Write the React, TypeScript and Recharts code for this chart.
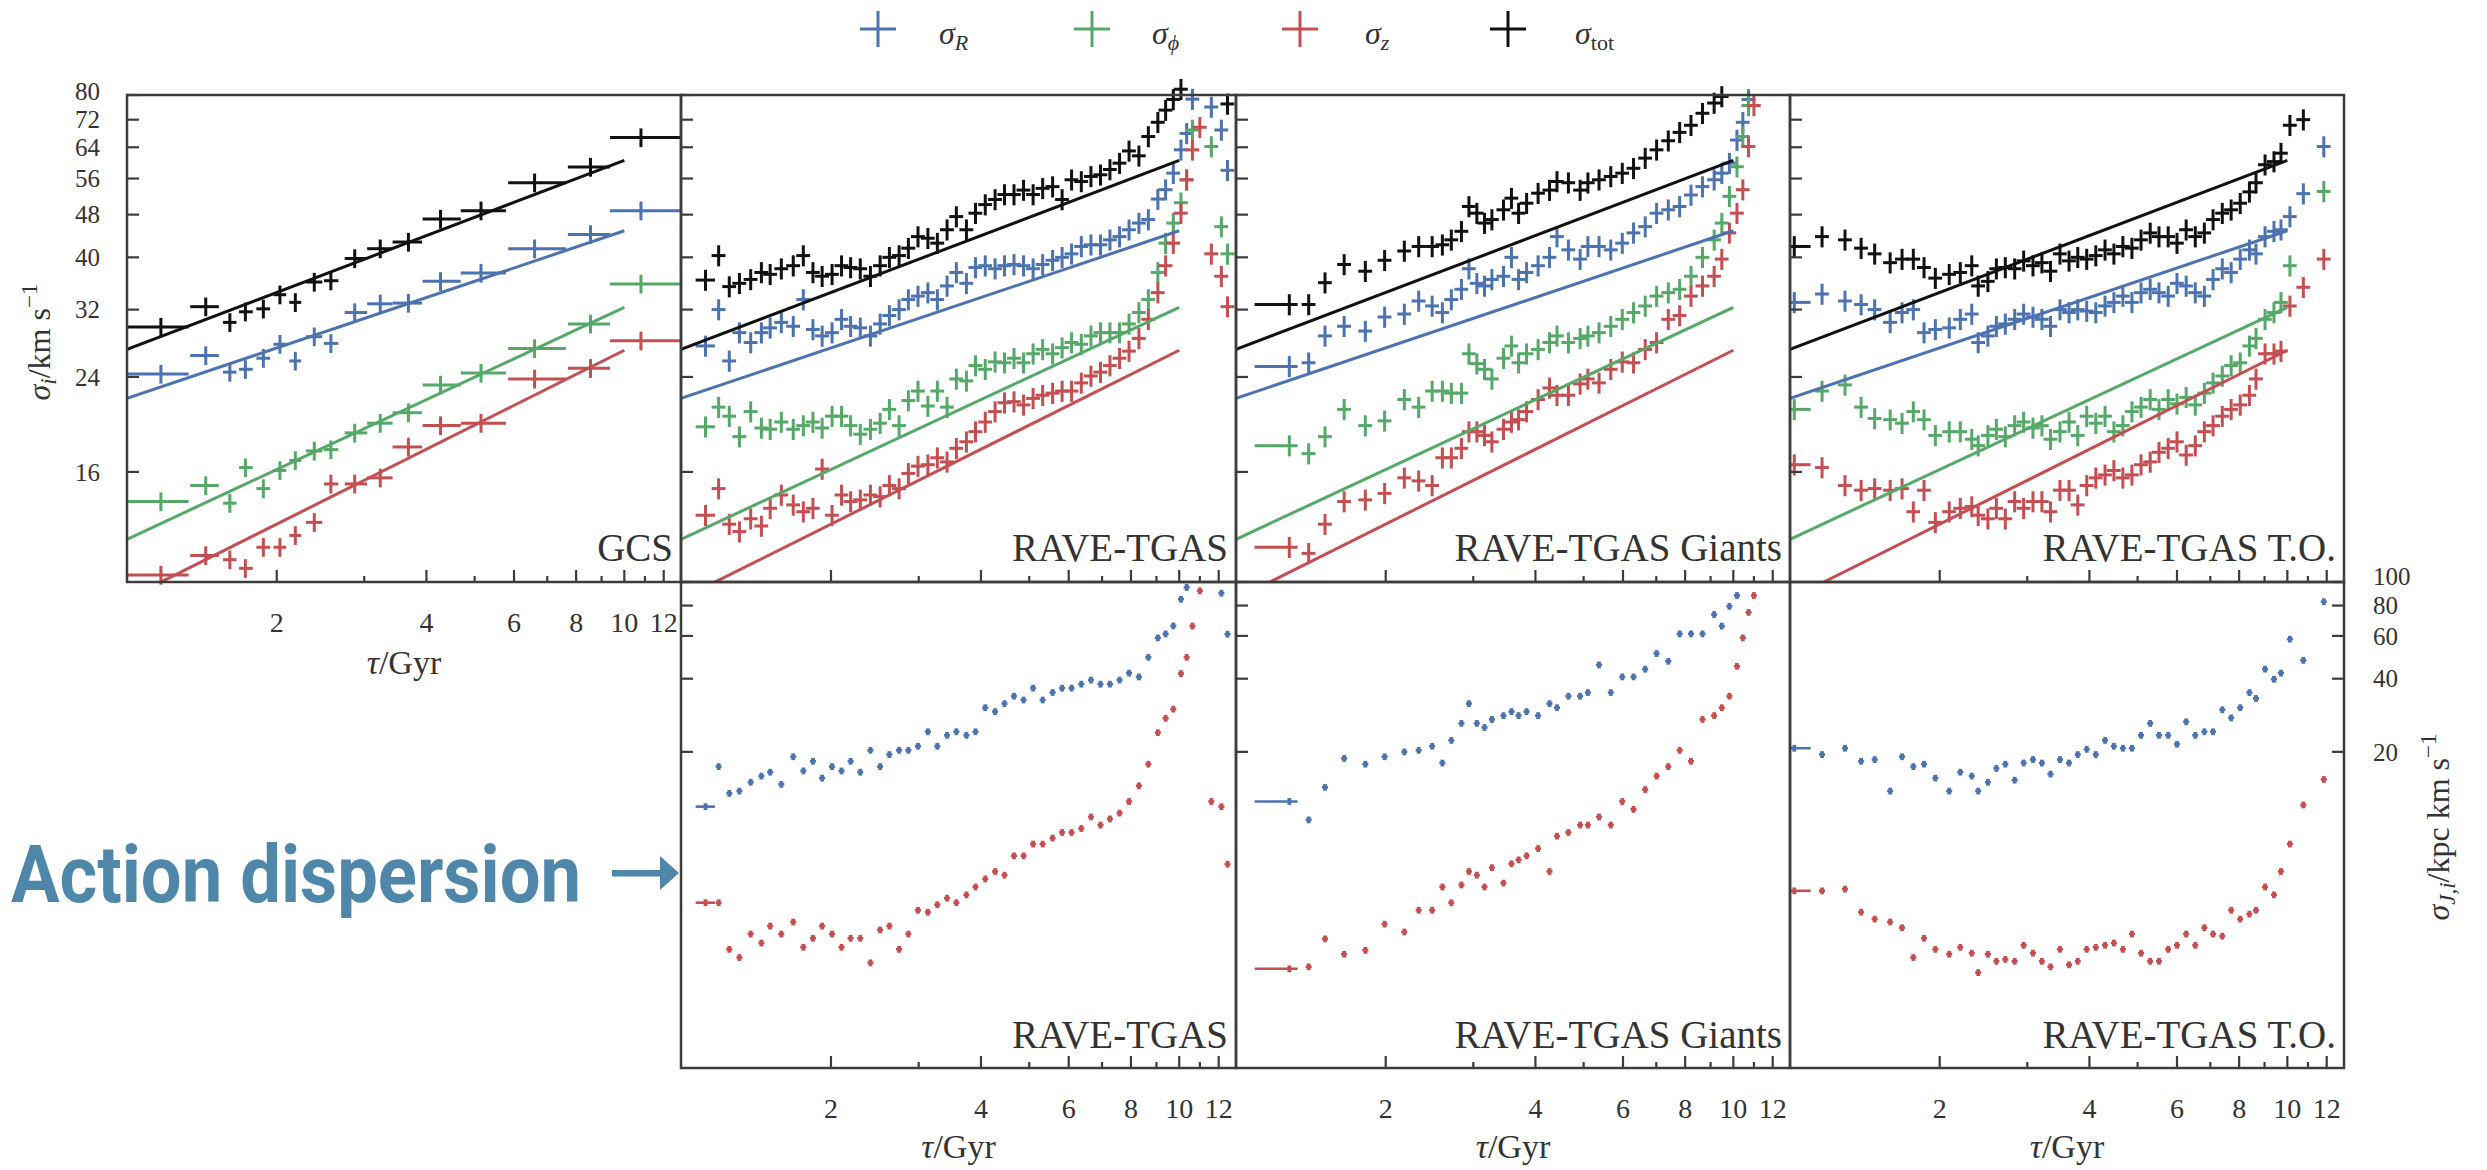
import React from 'react'
import { ComposedChart, Scatter, ErrorBar, XAxis, YAxis } from 'recharts'

// fit lines (power laws, straight in log-log), shared by all velocity panels
const fitTau = [1, 10]
const fitR = [21.9, 44.8]
const fitPhi = [12.0, 32.3]
const fitZ = [9.3, 26.9]
const fitTot = [27.0, 60.5]

// GCS
const gcsTau = [1.17, 1.44, 1.61, 1.73, 1.88, 2.03, 2.18, 2.38, 2.57, 2.87, 3.23, 3.68, 4.27, 5.15, 6.6, 8.55, 10.8]
const gcsLo = [1.0, 1.34, 1.56, 1.68, 1.82, 1.97, 2.12, 2.29, 2.49, 2.74, 3.04, 3.42, 3.93, 4.69, 5.84, 7.7, 9.36]
const gcsHi = [1.33, 1.53, 1.66, 1.79, 1.94, 2.09, 2.24, 2.47, 2.66, 3.04, 3.42, 3.92, 4.69, 5.78, 7.63, 9.36, 13.0]
const gcsTot = [29.7, 32.4, 30.3, 31.7, 32.1, 34.1, 33.0, 36.0, 36.2, 39.8, 41.5, 42.7, 47.1, 48.8, 55.0, 58.8, 66.7]
const gcsR = [24.3, 26.3, 24.5, 24.8, 26.0, 27.6, 25.7, 28.5, 27.7, 31.6, 32.8, 32.9, 36.1, 37.4, 41.5, 44.1, 48.8]
const gcsPhi = [14.1, 15.1, 14.0, 16.3, 14.9, 16.1, 16.8, 17.5, 17.6, 18.9, 19.7, 20.6, 23.2, 24.4, 27.1, 30.1, 35.7]
const gcsZ = [10.3, 11.2, 11.0, 10.6, 11.6, 11.6, 12.2, 12.9, 15.2, 15.2, 15.6, 17.8, 19.5, 19.7, 23.8, 24.9, 28.0]

// RAVE-TGAS
const rtTau = [1.12, 1.19, 1.25, 1.31, 1.38, 1.45, 1.51, 1.59, 1.68, 1.76, 1.84, 1.92, 2.01, 2.1, 2.19, 2.29, 2.4, 2.51, 2.62, 2.74,
  2.86, 2.99, 3.13, 3.27, 3.42, 3.57, 3.74, 3.9, 4.08, 4.27, 4.46, 4.66, 4.87, 5.09, 5.32, 5.57, 5.82, 6.08, 6.36, 6.65,
  6.95, 7.26, 7.59, 7.93, 8.3, 8.67, 9.06, 9.39, 9.73, 10.08, 10.35, 10.63, 11.0, 11.6, 12.15, 12.5]
const rtTot = [36.3, 40.3, 35.3, 35.8, 36.4, 37.5, 37.2, 38.1, 38.6, 40.3, 37.5, 36.9, 37.2, 38.6, 38.3, 38.1, 36.9, 38.6, 40.0, 40.3,
  41.6, 43.7, 43.4, 42.5, 45.0, 47.6, 45.0, 48.3, 50.1, 51.2, 52.3, 52.3, 53.3, 52.3, 53.7, 54.1, 51.2, 55.7, 55.3, 56.5,
  56.9, 58.2, 59.8, 63.0, 61.7, 67.0, 71.2, 75.0, 78.5, 82, null, null, null, null, null, 77]
const rtR = [27.4, 32.0, 25.7, 29.0, 27.8, 29.0, 29.6, 30.3, 29.8, 33.4, 29.4, 28.6, 29.0, 30.7, 29.8, 29.6, 28.6, 30.1, 31.2, 32.0,
  33.4, 33.9, 34.4, 33.4, 35.4, 37.5, 35.8, 38.3, 38.6, 38.1, 38.6, 38.8, 38.6, 38.1, 38.8, 39.5, 40.0, 40.6, 41.9, 42.2,
  42.2, 43.1, 43.7, 45.0, 46.3, 47.0, 51.3, 53.4, 57.3, 63.3, 67.9, 78.6, null, 76, 68.9, 58]
const rtPhi = [19.4, 21.1, 20.3, 18.6, 20.7, 19.3, 19.2, 19.8, 19.2, 19.5, 19.8, 19.3, 20.3, 20.3, 19.5, 18.8, 19.2, 19.7, 20.9, 19.5,
  21.7, 22.6, 21.2, 22.6, 21.1, 23.8, 23.6, 25.2, 24.8, 25.6, 25.5, 26.0, 25.5, 26.5, 27.0, 26.5, 27.2, 27.8, 27.6, 28.6,
  29.0, 29.0, 29.0, 30.1, 31.6, 33.4, 37.5, 42.5, 46.3, 50.5, 55.7, 68.9, null, 64.2, 45.6, 40.6]
const rtZ = [13.3, 14.9, 12.8, 12.4, 13.1, 12.7, 13.7, 14.5, 13.9, 13.5, 13.7, 16.2, 13.3, 14.5, 14.1, 14.2, 14.5, 14.4, 15.1, 14.9,
  15.9, 16.4, 16.5, 17.0, 16.7, 17.7, 18.2, 19.0, 19.8, 20.7, 21.5, 21.6, 21.3, 21.9, 22.2, 22.4, 22.6, 22.6, 23.4, 24.1,
  24.5, 25.2, 26.0, 26.8, 28.3, 30.7, 34.4, 38.6, 42.5, 48.3, 55.7, 63.3, 69.7, 40.6, 36.9, 32.4]
const rtJR = [11.9, 17.4, 13.5, 13.8, 15.0, 15.9, 16.5, 14.7, 19.1, 16.7, 18.3, 15.6, 17.4, 16.7, 18.3, 16.5, 20.3, 17.4, 19.5, 20.3,
  20.3, 21.1, 24.2, 21.1, 23.4, 24.2, 23.4, 24.2, 30.4, 29.3, 31.6, 33.9, 32.7, 36.6, 32.7, 35.1, 36.6, 36.6, 38.0, 39.5,
  38.0, 38.0, 39.5, 42.2, 40.7, 49.0, 58.9, 61.2, 66.0, 85.0, 95.0, null, null, null, 90, 61]
const rtJz = [4.79, 4.79, 3.08, 2.85, 3.56, 3.27, 3.84, 3.56, 3.99, 3.14, 3.42, 3.84, 3.56, 3.14, 3.42, 3.42, 2.71, 3.7, 3.84, 3.08,
  3.56, 4.46, 4.38, 4.7, 5.0, 4.79, 5.16, 5.56, 6.0, 6.44, 6.22, 7.47, 7.47, 8.35, 8.35, 8.84, 9.32, 9.32, 9.68, 10.8,
  10.0, 10.6, 11.2, 12.5, 14.5, 17.8, 24.0, 27.5, 30.0, 42.0, 49.0, 65.9, 92, 12.5, 11.9, 6.9]
const rtFirstBin = [1.07, 1.17]

// RAVE-TGAS Giants
const giTau = [1.28, 1.4, 1.51, 1.65, 1.82, 1.99, 2.18, 2.33, 2.48, 2.6, 2.71, 2.84, 2.94, 3.05, 3.16, 3.27, 3.45, 3.58, 3.7, 3.84,
  4.05, 4.27, 4.42, 4.66, 4.92, 5.1, 5.37, 5.67, 5.98, 6.3, 6.65, 7.01, 7.4, 7.8, 8.22, 8.67, 9.15, 9.48, 9.82, 10.17,
  10.45, 10.73, 11.0]
const giTot = [32.7, 32.7, 35.9, 38.8, 37.7, 39.5, 41.1, 41.9, 41.9, 42.2, 43.1, 44.7, 49.7, 48.3, 46.3, 47.0, 49.0, 51.5, 48.3, 50.4,
  52.6, 53.3, 55.3, 55.0, 53.3, 55.0, 55.7, 56.5, 57.3, 58.5, 61.1, 63.3, 65.8, 68.2, 70.3, 74.0, 77.3, 79.5, null, null,
  null, null, null]
const giR = [25.1, 25.5, 28.6, 29.8, 29.2, 31.0, 31.4, 33.2, 32.5, 31.6, 33.4, 34.9, 38.1, 35.8, 35.4, 36.4, 36.9, 40.0, 36.4, 37.5,
  38.6, 40.0, 43.7, 41.3, 39.7, 41.9, 41.9, 41.3, 42.5, 44.4, 45.6, 48.3, 49.0, 49.7, 52.2, 54.1, 55.7, 57.3, 59.8, 66.0,
  71.2, 78.5, null]
const giPhi = [17.9, 17.3, 18.6, 20.9, 19.5, 19.9, 21.8, 21.1, 22.6, 22.6, 22.4, 22.4, 26.5, 25.4, 24.8, 23.8, 26.0, 27.4, 25.5, 26.5,
  27.0, 27.8, 28.6, 27.8, 28.3, 28.6, 29.0, 29.8, 30.7, 31.6, 32.5, 33.9, 34.4, 34.9, 36.9, 40.0, 43.1, 46.3, 51.9, 58.9,
  67.0, 76.5, null]
const giZ = [11.6, 11.3, 12.8, 14.1, 14.2, 14.6, 15.6, 15.4, 15.1, 17.0, 17.0, 17.7, 19.0, 19.0, 18.7, 18.2, 19.2, 19.8, 20.0, 20.7,
  21.8, 22.9, 22.2, 22.2, 23.3, 23.8, 23.4, 24.8, 25.6, 25.5, 27.0, 27.8, 30.7, 31.2, 33.9, 35.4, 36.9, 39.7, 44.4, 48.3,
  53.4, 64.2, 76.5]
const giJR = [12.5, 10.5, 14.3, 18.8, 17.8, 19.1, 20.0, 20.3, 21.1, 18.0, 22.3, 26.2, 31.6, 26.2, 25.2, 27.2, 28.2, 29.3, 28.2, 29.3,
  28.2, 31.6, 30.4, 33.9, 33.9, 35.1, 45.6, 35.1, 40.7, 40.7, 43.8, 50.8, 47.2, 61.2, 61.2, 61.2, 73.5, 65.9, 79.4, 88,
  null, null, null]
const giJz = [2.56, 2.61, 3.4, 2.94, 3.05, 3.91, 3.63, 4.46, 4.46, 5.56, 4.79, 5.67, 6.44, 6.22, 5.56, 6.68, 5.77, 6.93, 7.19, 7.47,
  8.0, 6.44, 9.0, 9.32, 10.0, 10.0, 10.8, 10.0, 12.5, 11.6, 14.0, 15.9, 17.4, 20.3, 18.3, 27.2, 28.2, 30.4, 33.9, 45,
  58.9, 75, 88]
const giFirstBin = [1.09, 1.33]

// RAVE-TGAS T.O.
const toTau = [1.02, 1.16, 1.29, 1.39, 1.48, 1.59, 1.68, 1.77, 1.86, 1.96, 2.09, 2.2, 2.32, 2.39, 2.5, 2.6, 2.71, 2.83, 2.95, 3.08,
  3.21, 3.34, 3.49, 3.64, 3.79, 3.95, 4.12, 4.3, 4.48, 4.67, 4.87, 5.08, 5.3, 5.52, 5.76, 6.0, 6.26, 6.53, 6.81, 7.09,
  7.4, 7.71, 8.04, 8.39, 8.65, 9.02, 9.4, 9.71, 10.12, 10.77, 11.84]
const toTot = [41.9, 43.7, 43.1, 41.6, 40.6, 39.1, 39.7, 39.7, 38.3, 36.6, 37.2, 37.5, 38.6, 35.4, 36.1, 38.1, 38.3, 38.1, 39.4, 38.6,
  39.1, 37.7, 40.6, 39.4, 40.0, 39.7, 40.3, 41.3, 40.6, 41.9, 41.6, 43.1, 44.4, 43.7, 43.7, 42.5, 45.0, 43.7, 44.4, 47.0,
  48.3, 49.0, 50.4, 52.9, 55.0, 59.4, 60.2, 62.4, 70.3, 72.0, null]
const toR = [33.0, 34.2, 33.2, 32.7, 32.0, 30.3, 31.6, 32.0, 29.0, 29.4, 29.6, 30.7, 31.4, 27.8, 28.6, 29.8, 30.1, 30.7, 31.4, 31.0,
  30.7, 29.8, 32.0, 31.6, 32.0, 31.8, 31.6, 32.5, 33.0, 33.9, 33.0, 34.4, 34.9, 34.4, 33.9, 35.8, 35.4, 34.4, 33.9, 36.4,
  38.1, 37.5, 39.7, 41.3, 40.6, 43.7, 44.7, 45.0, 47.6, 52.5, 64.2]
const toPhi = [20.9, 22.6, 23.2, 21.1, 20.1, 20.0, 19.7, 20.7, 20.0, 18.7, 19.0, 19.0, 18.4, 17.9, 18.7, 19.2, 18.6, 19.5, 19.8, 19.3,
  19.5, 18.4, 19.0, 19.8, 18.7, 20.3, 19.7, 20.3, 19.0, 19.5, 20.7, 21.1, 21.8, 20.9, 21.8, 21.4, 22.0, 21.3, 22.4, 23.4,
  24.1, 25.2, 25.5, 27.4, 28.3, 30.7, 31.6, 33.0, 38.6, null, 53.0]
const toZ = [16.5, 16.3, 15.1, 14.8, 14.9, 14.8, 14.9, 13.5, 14.8, 12.9, 13.5, 13.7, 13.8, 13.3, 13.1, 13.7, 13.1, 14.1, 13.7, 14.1,
  14.1, 13.5, 14.8, 14.8, 13.9, 15.1, 15.6, 15.8, 16.1, 15.6, 15.8, 16.5, 16.7, 17.4, 17.7, 18.2, 17.2, 17.9, 19.0, 19.5,
  20.3, 20.9, 21.3, 22.2, 23.8, 26.5, 26.5, 26.8, 32.5, 35.2, 39.7]
const toJR = [20.7, 19.5, 20.7, 18.3, 18.6, 13.8, 19.1, 17.4, 17.8, 15.6, 13.8, 16.5, 15.9, 13.8, 15.0, 17.1, 17.8, 15.3, 18.0, 18.6,
  18.0, 16.2, 18.6, 18.0, 19.5, 20.5, 19.5, 22.3, 21.1, 20.7, 20.7, 23.4, 26.2, 23.4, 23.4, 21.5, 26.6, 23.4, 24.2, 24.2,
  29.8, 27.6, 30.4, 35.1, 33.2, 43.8, 39.8, 42.2, 58.2, 47.6, 83.0]
const toJz = [5.36, 5.36, 5.45, 4.38, 4.1, 3.99, 3.78, 2.85, 3.42, 3.08, 2.94, 3.14, 2.97, 2.47, 2.94, 2.75, 2.8, 2.75, 3.2, 2.97,
  2.75, 2.61, 3.08, 2.66, 2.75, 3.08, 3.14, 3.2, 3.27, 3.08, 3.56, 2.97, 2.75, 2.75, 3.08, 3.2, 3.56, 3.2, 3.78, 3.56,
  3.49, 4.46, 4.1, 4.3, 4.46, 5.56, 5.16, 6.44, 8.35, 12.1, 15.4]
const toFirstBin = [1.0, 1.1]

// axes
const xTicks = [2, 3, 4, 5, 6, 7, 8, 9, 10, 11, 12]
const xLabels = [2, 4, 6, 8, 10, 12]
const velTicks = [16, 24, 32, 40, 48, 56, 64, 72, 80]
const actTicks = [20, 40, 60, 80, 100]
const velDomain = [10, 80]
const actDomain = [1, 100]

const BLUE = '#4C72B0'
const GREEN = '#55A868'
const RED = '#C44E52'
const BLACK = '#111111'
const FRAME = '#3c3c3c'
const INK = '#333333'
const SERIF = "'Liberation Serif', Tinos, 'Times New Roman', serif"
const serif = { fontFamily: SERIF }

const XE = [127, 681, 1236, 1790, 2344]
const TOP = 95
const MID = 582
const BOT = 1068
const PAD = 90

type Pt = { t: number; v: number; ex: number[]; ey: number[] }

const mk = (tau: number[], vals: (number | null)[], xr: number, yr: number, first?: number[]): Pt[] =>
  tau.flatMap((t, i) => {
    const v = vals[i]
    if (v == null) return []
    const ex = i === 0 && first ? [t - first[0], first[1] - t] : [t * xr, t * xr]
    return [{ t, v, ex, ey: [v * yr, v * yr] }]
  })

const mkBins = (tau: number[], vals: number[], lo: number[], hi: number[], yr: number): Pt[] =>
  tau.map((t, i) => ({ t, v: vals[i], ex: [t - lo[i], hi[i] - t], ey: [vals[i] * yr, vals[i] * yr] }))

const mkFit = (vals: number[]) => fitTau.map((t, i) => ({ t, v: vals[i] }))

const fits = [
  { d: mkFit(fitR), c: BLUE },
  { d: mkFit(fitPhi), c: GREEN },
  { d: mkFit(fitZ), c: RED },
  { d: mkFit(fitTot), c: BLACK },
]

const noMark = () => <g />

const XTick = (p: any) => {
  const { x, y, payload, showLabel } = p
  const v = payload.value
  const major = xLabels.includes(v)
  return (
    <g>
      <line x1={x} x2={x} y1={y} y2={y - (major ? 12 : 6)} stroke={FRAME} strokeWidth={2.2} />
      {showLabel && major && (
        <text x={x} y={y + 50} textAnchor='middle' fontSize={28} style={serif} fill={INK}>
          {v}
        </text>
      )}
    </g>
  )
}

const YTick = (p: any) => {
  const { x, y, payload, mode } = p
  const right = mode === 'right'
  const v = payload.value
  // the topmost labels are nudged so they do not run into their neighbours
  const shift = right ? (v === 100 ? -6 : 0) : v === 80 ? -4 : 0
  return (
    <g>
      <line x1={x} x2={right ? x - 12 : x + 12} y1={y} y2={y} stroke={FRAME} strokeWidth={2.2} />
      {mode !== 'left' && (
        <text
          x={right ? x + 29 : x - 27}
          y={y + shift}
          dy='0.35em'
          textAnchor={right ? 'start' : 'end'}
          fontSize={25}
          style={serif}
          fill={INK}
        >
          {v}
        </text>
      )}
    </g>
  )
}

type Series = { data: Pt[]; color: string; sw: number; swx: number }

interface IPanel {
  x0: number
  x1: number
  y0: number
  y1: number
  yDomain: number[]
  yTicks: number[]
  series: Series[]
  showFits?: boolean
  showX: boolean
  yMode: 'labels' | 'left' | 'right'
}

const Panel = ({ x0, x1, y0, y1, yDomain, yTicks, series, showFits, showX, yMode }: IPanel) => {
  const w = x1 - x0
  const h = y1 - y0
  const right = yMode === 'right'
  return (
    <div style={{ position: 'absolute', left: x0 - PAD, top: y0 - PAD }}>
      <ComposedChart
        width={w + 2 * PAD}
        height={h + 2 * PAD}
        margin={{ top: PAD, bottom: 0, left: right ? PAD : 0, right: right ? 0 : PAD }}
      >
        <XAxis
          dataKey='t'
          type='number'
          scale='log'
          domain={[1, 13]}
          allowDataOverflow
          ticks={xTicks}
          interval={0}
          height={PAD}
          tickSize={0}
          tickMargin={0}
          axisLine={false}
          tickLine={false}
          tick={<XTick showLabel={showX} />}
        />
        <YAxis
          dataKey='v'
          type='number'
          scale='log'
          domain={yDomain}
          allowDataOverflow
          ticks={yTicks}
          interval={0}
          width={PAD}
          orientation={right ? 'right' : 'left'}
          tickSize={0}
          tickMargin={0}
          axisLine={false}
          tickLine={false}
          tick={<YTick mode={yMode} />}
        />
        {showFits &&
          fits.map((f, i) => (
            <Scatter
              key={'fit' + i}
              data={f.d}
              fill={f.c}
              shape={noMark}
              line={{ stroke: f.c, strokeWidth: 3 }}
              isAnimationActive={false}
            />
          ))}
        {series.map((s, i) => (
          <Scatter key={'s' + i} data={s.data} fill={s.color} shape={noMark} isAnimationActive={false}>
            <ErrorBar dataKey='ey' direction='y' width={0} stroke={s.color} strokeWidth={s.sw} isAnimationActive={false} />
            <ErrorBar dataKey='ex' direction='x' width={0} stroke={s.color} strokeWidth={s.swx} isAnimationActive={false} />
          </Scatter>
        ))}
      </ComposedChart>
    </div>
  )
}

const vel = (tau: number[], r: any[], phi: any[], z: any[], tot: any[], first?: number[]): Series[] => [
  { data: mk(tau, r, 0.032, 0.045, first), color: BLUE, sw: 3, swx: 3 },
  { data: mk(tau, phi, 0.032, 0.045, first), color: GREEN, sw: 3, swx: 3 },
  { data: mk(tau, z, 0.032, 0.045, first), color: RED, sw: 3, swx: 3 },
  { data: mk(tau, tot, 0.032, 0.045, first), color: BLACK, sw: 3, swx: 3 },
]

const act = (tau: number[], jr: any[], jz: any[], first?: number[]): Series[] => [
  { data: mk(tau, jr, 0.014, 0.032, first), color: BLUE, sw: 3.8, swx: 2.6 },
  { data: mk(tau, jz, 0.014, 0.032, first), color: RED, sw: 3.8, swx: 2.6 },
]

const gcsSeries: Series[] = [
  { data: mkBins(gcsTau, gcsR, gcsLo, gcsHi, 0.04), color: BLUE, sw: 3, swx: 3 },
  { data: mkBins(gcsTau, gcsPhi, gcsLo, gcsHi, 0.04), color: GREEN, sw: 3, swx: 3 },
  { data: mkBins(gcsTau, gcsZ, gcsLo, gcsHi, 0.04), color: RED, sw: 3, swx: 3 },
  { data: mkBins(gcsTau, gcsTot, gcsLo, gcsHi, 0.04), color: BLACK, sw: 3, swx: 3 },
]

const topNames = ['GCS', 'RAVE-TGAS', 'RAVE-TGAS Giants', 'RAVE-TGAS T.O.']
const botNames = ['RAVE-TGAS', 'RAVE-TGAS Giants', 'RAVE-TGAS T.O.']

const legendItems = [
  { c: BLUE, cx: 878, tx: 939, sub: 'R', it: true },
  { c: GREEN, cx: 1092, tx: 1152, sub: 'ϕ', it: true },
  { c: RED, cx: 1300, tx: 1365, sub: 'z', it: true },
  { c: BLACK, cx: 1508, tx: 1575, sub: 'tot', it: false },
]

const Tau = ({ x, y }: { x: number; y: number }) => (
  <text x={x} y={y} textAnchor='middle' fontSize={34} style={serif} fill={INK}>
    <tspan fontStyle='italic'>τ</tspan>/Gyr
  </text>
)

const Overlay = () => (
  <svg width={2487} height={1170} style={{ position: 'absolute', left: 0, top: 0, pointerEvents: 'none' }}>
    {[0, 1, 2, 3].map((i) => (
      <rect key={'ft' + i} x={XE[i]} y={TOP} width={XE[i + 1] - XE[i]} height={MID - TOP} fill='none' stroke={FRAME} strokeWidth={2.5} />
    ))}
    {[1, 2, 3].map((i) => (
      <rect key={'fb' + i} x={XE[i]} y={MID} width={XE[i + 1] - XE[i]} height={BOT - MID} fill='none' stroke={FRAME} strokeWidth={2.5} />
    ))}
    {topNames.map((n, i) => (
      <text key={'nt' + i} x={XE[i + 1] - 8} y={561} textAnchor='end' fontSize={39} style={serif} fill={INK}>
        {n}
      </text>
    ))}
    {botNames.map((n, i) => (
      <text key={'nb' + i} x={XE[i + 2] - 8} y={1048} textAnchor='end' fontSize={39} style={serif} fill={INK}>
        {n}
      </text>
    ))}
    <Tau x={(XE[0] + XE[1]) / 2} y={674} />
    {[1, 2, 3].map((i) => (
      <Tau key={'tau' + i} x={(XE[i] + XE[i + 1]) / 2} y={1158} />
    ))}
    <text transform='translate(50,342) rotate(-90)' textAnchor='middle' fontSize={32} style={serif} fill={INK}>
      <tspan fontStyle='italic'>σ</tspan>
      <tspan fontStyle='italic' fontSize={23} dy={6}>i</tspan>
      <tspan dy={-6}>/km s</tspan>
      <tspan fontSize={23} dy={-13}>−1</tspan>
    </text>
    <text transform='translate(2449,827) rotate(-90)' textAnchor='middle' fontSize={32} style={serif} fill={INK}>
      <tspan fontStyle='italic'>σ</tspan>
      <tspan fontStyle='italic' fontSize={23} dy={6}>J,i</tspan>
      <tspan dy={-6}>/kpc km s</tspan>
      <tspan fontSize={23} dy={-13}>−1</tspan>
    </text>
    {legendItems.map((it) => (
      <g key={it.cx}>
        <line x1={it.cx - 18} x2={it.cx + 18} y1={29} y2={29} stroke={it.c} strokeWidth={3} />
        <line x1={it.cx} x2={it.cx} y1={11} y2={47} stroke={it.c} strokeWidth={3} />
        <text x={it.tx} y={44} fontSize={32} style={serif} fill={INK}>
          <tspan fontStyle='italic'>σ</tspan>
          <tspan fontSize={22} dy={6} fontStyle={it.it ? 'italic' : 'normal'}>
            {it.sub}
          </tspan>
        </text>
      </g>
    ))}
    <text
      x={11}
      y={902}
      fontSize={80}
      fontWeight='bold'
      style={{ fontFamily: "'Liberation Sans Narrow', Roboto, 'Liberation Sans', sans-serif" }}
      fill='#4F87AA'
      textLength={570}
      lengthAdjust='spacingAndGlyphs'
    >
      Action dispersion
    </text>
    <rect x={612} y={870} width={52} height={6.5} fill='#4F87AA' />
    <path d='M 660 856 L 679 873 L 660 890 Z' fill='#4F87AA' />
  </svg>
)

export default function App() {
  return (
    <div style={{ position: 'absolute', left: 0, top: 0, width: 2487, height: 1170, background: '#fff', overflow: 'hidden', fontFamily: SERIF }}>
      <Panel x0={XE[0]} x1={XE[1]} y0={TOP} y1={MID} yDomain={velDomain} yTicks={velTicks} series={gcsSeries} showFits showX yMode='labels' />
      <Panel x0={XE[1]} x1={XE[2]} y0={TOP} y1={MID} yDomain={velDomain} yTicks={velTicks} series={vel(rtTau, rtR, rtPhi, rtZ, rtTot, rtFirstBin)} showFits showX={false} yMode='left' />
      <Panel x0={XE[2]} x1={XE[3]} y0={TOP} y1={MID} yDomain={velDomain} yTicks={velTicks} series={vel(giTau, giR, giPhi, giZ, giTot, giFirstBin)} showFits showX={false} yMode='left' />
      <Panel x0={XE[3]} x1={XE[4]} y0={TOP} y1={MID} yDomain={velDomain} yTicks={velTicks} series={vel(toTau, toR, toPhi, toZ, toTot, toFirstBin)} showFits showX={false} yMode='left' />
      <Panel x0={XE[1]} x1={XE[2]} y0={MID} y1={BOT} yDomain={actDomain} yTicks={actTicks} series={act(rtTau, rtJR, rtJz, rtFirstBin)} showX yMode='left' />
      <Panel x0={XE[2]} x1={XE[3]} y0={MID} y1={BOT} yDomain={actDomain} yTicks={actTicks} series={act(giTau, giJR, giJz, giFirstBin)} showX yMode='left' />
      <Panel x0={XE[3]} x1={XE[4]} y0={MID} y1={BOT} yDomain={actDomain} yTicks={actTicks} series={act(toTau, toJR, toJz, toFirstBin)} showX yMode='right' />
      <Overlay />
    </div>
  )
}
